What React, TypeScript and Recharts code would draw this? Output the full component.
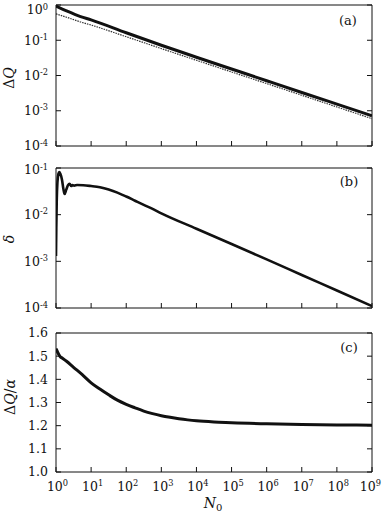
import React from "react";
import { LineChart, Line, XAxis, YAxis } from "recharts";

const FONT = '"DejaVu Serif", serif';
const INK = "#111";

// shared x ticks (N0 decades)
const xTicks = [1, 1e1, 1e2, 1e3, 1e4, 1e5, 1e6, 1e7, 1e8, 1e9];

// Panel (a): ΔQ (solid) and α-like reference (dotted)
const nA = [1, 2, 5, 10, 100, 1e3, 1e4, 1e5, 1e6, 1e7, 1e8, 1e9];
const dQ = [0.93, 0.68, 0.47, 0.38, 0.163, 0.072, 0.033, 0.0153, 0.0071, 0.0033, 0.00154, 0.00072];
const dQref = [0.56, 0.45, 0.33, 0.27, 0.126, 0.058, 0.027, 0.0126, 0.0059, 0.00275, 0.00128, 0.000595];
const yTicksA = [1e-4, 1e-3, 1e-2, 1e-1, 1];

// Panel (b): δ
const nB = [1, 1.02, 1.05, 1.1, 1.17, 1.24, 1.33, 1.48, 1.62, 1.76, 1.95, 2.2, 2.44, 2.72, 2.97, 3.3, 4, 6, 10, 17.8, 31.6, 56, 100, 178, 316, 562, 1e3, 1e4, 1e5, 1e6, 1e7, 1e8, 1e9];
const delta = [0.0013, 0.005, 0.02, 0.05, 0.075, 0.082, 0.075, 0.056, 0.036, 0.0277, 0.034, 0.043, 0.046, 0.041, 0.043, 0.042, 0.0432, 0.0428, 0.041, 0.0385, 0.0345, 0.0297, 0.0245, 0.0199, 0.0162, 0.0133, 0.0107, 0.0050, 0.00235, 0.0011, 0.00051, 0.000237, 0.00011];
const yTicksB = [1e-4, 1e-3, 1e-2, 1e-1];

// Panel (c): ΔQ/α
const nC = [1, 1.05, 1.12, 1.2, 1.32, 1.5, 2, 3.16, 5.6, 10, 17.8, 31.6, 56, 100, 178, 316, 562, 1e3, 1778, 3162, 5623, 1e4, 3.16e4, 1e5, 3.16e5, 1e6, 1e7, 1e8, 1e9];
const ratio = [1.533, 1.526, 1.516, 1.507, 1.498, 1.492, 1.478, 1.452, 1.42, 1.385, 1.358, 1.333, 1.31, 1.292, 1.277, 1.263, 1.252, 1.243, 1.236, 1.23, 1.225, 1.221, 1.216, 1.213, 1.21, 1.208, 1.205, 1.203, 1.202];
const yTicksC = [1.0, 1.1, 1.2, 1.3, 1.4, 1.5, 1.6];

const dataA = nA.map((n, i) => ({ n, dQ: dQ[i], ref: dQref[i] }));
const dataB = nB.map((n, i) => ({ n, d: delta[i] }));
const dataC = nC.map((n, i) => ({ n, r: ratio[i] }));

const W = 382;
const ML = 55;
const MR = 9;
const TL = 5;
const FS = 12.5;

const expOf = (v: number) => Math.round(Math.log10(v));

const Pow = ({ v, size }: { v: number; size: number }) => (
  <>
    <tspan>10</tspan>
    <tspan dy={-size * 0.38} fontSize={size * 0.66}>{expOf(v)}</tspan>
  </>
);

const tStyle = { fontFamily: FONT };

const XTickBottom = (p: any) => {
  const { x, y, payload, labels } = p;
  const last = payload.value >= 1e9;
  return (
    <g>
      <line x1={x} x2={x} y1={y} y2={y - TL} stroke={INK} strokeWidth={1} />
      {labels && (
        <text
          x={last ? W - 1 : x + 1.5}
          y={y + 19}
          textAnchor={last ? "end" : "middle"}
          style={tStyle}
          fontSize={FS}
          fill={INK}
        >
          <Pow v={payload.value} size={FS} />
        </text>
      )}
    </g>
  );
};

const XTickTop = (p: any) => {
  const { x, y } = p;
  return <line x1={x} x2={x} y1={y} y2={y + TL} stroke={INK} strokeWidth={1} />;
};

const YTickLeft = (p: any) => {
  const { x, y, payload, log } = p;
  const ty = Math.max(y, 10);
  return (
    <g>
      <line x1={x} x2={x + TL} y1={y} y2={y} stroke={INK} strokeWidth={1} />
      <text x={x - 8} y={ty} dy="0.35em" textAnchor="end" style={tStyle} fontSize={FS} fill={INK}>
        {log ? <Pow v={payload.value} size={FS} /> : Number(payload.value).toFixed(1)}
      </text>
    </g>
  );
};

const YTickRight = (p: any) => {
  const { x, y } = p;
  return <line x1={x} x2={x - TL} y1={y} y2={y} stroke={INK} strokeWidth={1} />;
};

const axisLine = { stroke: INK, strokeWidth: 1 };

function Frame(props: {
  yDomain: [number, number];
  yTicks: number[];
  log: boolean;
  labels: boolean;
}) {
  const { yDomain, yTicks, log, labels } = props;
  const yScale = log ? "log" : "linear";
  return [
    <XAxis
      key="xb"
      dataKey="n"
      type="number"
      scale="log"
      domain={[1, 1e9]}
      ticks={xTicks}
      height={1}
      tickSize={0}
      tickMargin={0}
      tickLine={false}
      axisLine={axisLine}
      interval={0}
      allowDataOverflow
      tick={(p: any) => <XTickBottom {...p} labels={labels} />}
    />,
    <XAxis
      key="xt"
      xAxisId="top"
      orientation="top"
      type="number"
      scale="log"
      domain={[1, 1e9]}
      ticks={xTicks}
      height={1}
      tickSize={0}
      tickMargin={0}
      tickLine={false}
      axisLine={axisLine}
      interval={0}
      allowDataOverflow
      tick={(p: any) => <XTickTop {...p} />}
    />,
    <YAxis
      key="yl"
      type="number"
      scale={yScale}
      domain={yDomain}
      ticks={yTicks}
      width={1}
      tickSize={0}
      tickMargin={0}
      tickLine={false}
      axisLine={axisLine}
      interval={0}
      allowDataOverflow
      tick={(p: any) => <YTickLeft {...p} log={log} />}
    />,
    <YAxis
      key="yr"
      yAxisId="right"
      orientation="right"
      type="number"
      scale={yScale}
      domain={yDomain}
      ticks={yTicks}
      width={1}
      tickSize={0}
      tickMargin={0}
      tickLine={false}
      axisLine={axisLine}
      interval={0}
      allowDataOverflow
      tick={(p: any) => <YTickRight {...p} />}
    />,
  ];
}

export default function App() {
  return (
    <div style={{ position: "absolute", left: 0, top: 0, width: W, height: 516, background: "#fff" }}>
      <div style={{ position: "absolute", left: 0, top: 0 }}>
        <LineChart width={W} height={160} data={dataA} margin={{ top: 4, right: MR, bottom: 13, left: ML }}>
          {Frame({ yDomain: [1e-4, 1], yTicks: yTicksA, log: true, labels: false })}
          <Line dataKey="ref" type="monotone" stroke="#333" strokeWidth={1.2} strokeDasharray="1.5 1" dot={false} isAnimationActive={false} />
          <Line dataKey="dQ" type="monotone" stroke={INK} strokeWidth={3} dot={false} isAnimationActive={false} />
        </LineChart>
      </div>
      <div style={{ position: "absolute", left: 0, top: 160 }}>
        <LineChart width={W} height={160} data={dataB} margin={{ top: 7, right: MR, bottom: 11, left: ML }}>
          {Frame({ yDomain: [1e-4, 1e-1], yTicks: yTicksB, log: true, labels: false })}
          <Line dataKey="d" type="monotone" stroke={INK} strokeWidth={2.6} dot={false} isAnimationActive={false} />
        </LineChart>
      </div>
      <div style={{ position: "absolute", left: 0, top: 320 }}>
        <LineChart width={W} height={196} data={dataC} margin={{ top: 12, right: MR, bottom: 43, left: ML }}>
          {Frame({ yDomain: [1.0, 1.6], yTicks: yTicksC, log: false, labels: true })}
          <Line dataKey="r" type="monotone" stroke={INK} strokeWidth={3} dot={false} isAnimationActive={false} />
        </LineChart>
      </div>
      <svg width={W} height={516} style={{ position: "absolute", left: 0, top: 0, pointerEvents: "none" }}>
        <g style={tStyle} fill={INK}>
          <text x={348} y={25} textAnchor="middle" fontSize={13}>(a)</text>
          <text x={349} y={186} textAnchor="middle" fontSize={13}>(b)</text>
          <text x={349} y={352} textAnchor="middle" fontSize={13}>(c)</text>
          <text transform="translate(14,78) rotate(-90)" textAnchor="middle" fontSize={14}>
            Δ<tspan fontStyle="italic">Q</tspan>
          </text>
          <text transform="translate(14,239) rotate(-90)" textAnchor="middle" fontSize={14} fontStyle="italic">δ</text>
          <text transform="translate(15,397) rotate(-90)" textAnchor="middle" fontSize={14}>
            Δ<tspan fontStyle="italic">Q</tspan>/<tspan fontStyle="italic">α</tspan>
          </text>
          <text x={213} y={508} textAnchor="middle" fontSize={14}>
            <tspan fontStyle="italic">N</tspan>
            <tspan fontSize={10} dy={3}>0</tspan>
          </text>
        </g>
      </svg>
    </div>
  );
}
